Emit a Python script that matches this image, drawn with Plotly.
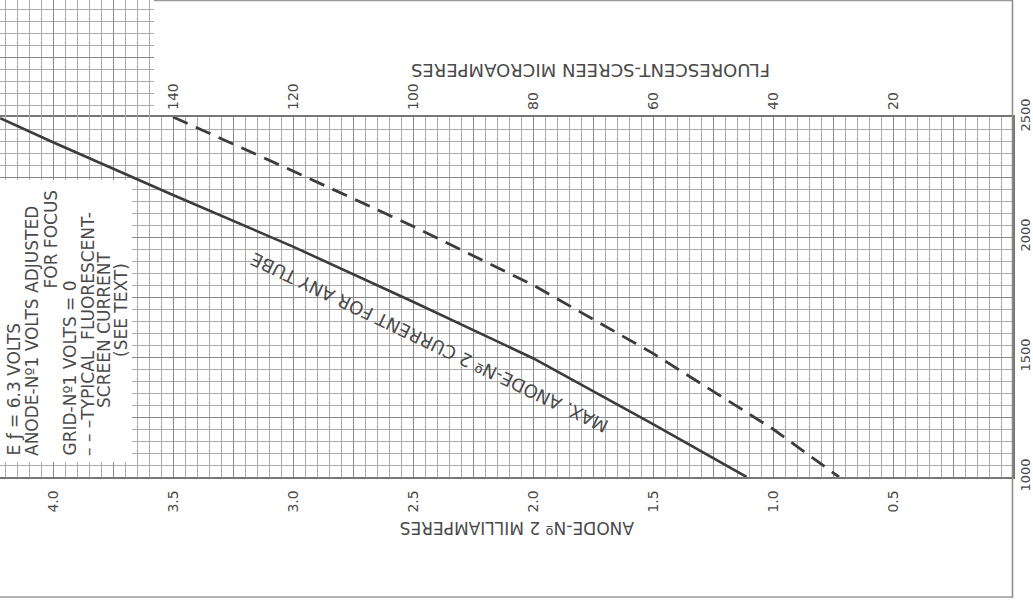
import numpy as np
import plotly.graph_objects as go

# ---------------- data ----------------
# Max. anode-No.2 current for any tube (solid): mA vs anode-No.2 volts
max_ma = [4.22, 4.0, 3.5, 3.0, 2.5, 2.0, 1.5, 1.11]
max_volts = [2495, 2395, 2175, 1960, 1730, 1495, 1220, 1000]

# Typical fluorescent-screen current (dashed): microamperes vs volts
screen_ua = [140, 120, 100, 80, 60, 40, 29]
screen_volts = [2500, 2275, 2045, 1800, 1515, 1200, 1000]

ma_ticks = [4.0, 3.5, 3.0, 2.5, 2.0, 1.5, 1.0, 0.5]
ma_labels = ["4.0", "3.5", "3.0", "2.5", "2.0", "1.5", "1.0", "0.5"]
ua_ticks = [140, 120, 100, 80, 60, 40, 20]
ua_labels = ["140", "120", "100", "80", "60", "40", "20"]
volt_ticks = [1000, 1500, 2000, 2500]
volt_labels = ["1000", "1500", "2000", "2500"]

# ---------------- geometry ----------------
W, H = 1033, 603
L, R, T, B = 0, 20, 0, 126
PW, PH = W - L - R, H - T - B          # plot area in px
GRID_TOP = 117                          # px where the main grid starts
PX_PER_MA = 240.0
PX_PER_UA = 6.0
PX_PER_V = 0.24
XMAX = PW / PX_PER_MA
YDOM_TOP = (PH - GRID_TOP) / PH
PIECE_W = 154

def px(x):
    return x / PW

def py(y):
    return (PH - y) / PH

INK = "#3c3c3c"
TXT = "#4a4a4a"
MAJ = "#888888"
MIN = "#ababab"
FONT = "DejaVu Sans"

fig = go.Figure()

fig.add_trace(go.Scatter(
    x=max_ma, y=max_volts, mode="lines", xaxis="x", yaxis="y",
    line=dict(color=INK, width=2.6), hoverinfo="skip", showlegend=False))

fig.add_trace(go.Scatter(
    x=screen_ua, y=screen_volts, mode="lines", xaxis="x3", yaxis="y",
    line=dict(color=INK, width=2.8, dash="16px,9px"),
    hoverinfo="skip", showlegend=False))

# invisible trace so the upper-left grid piece is drawn
fig.add_trace(go.Scatter(x=[4.0], y=[2700], mode="markers", xaxis="x4", yaxis="y4",
                         marker=dict(opacity=0), hoverinfo="skip", showlegend=False))

grid_x = list(np.round(np.arange(0, 4.30, 0.25), 2))
grid_x_text = []
for v in grid_x:
    lab = ""
    for t, s in zip(ma_ticks, ma_labels):
        if abs(t - v) < 1e-6:
            lab = s
    grid_x_text.append(lab)

grid_y = list(range(1000, 3001, 250))
grid_y_text = []
for v in grid_y:
    lab = ""
    for t, s in zip(volt_ticks, volt_labels):
        if t == v:
            lab = s
    grid_y_text.append(lab)

minor_x = dict(tickmode="linear", tick0=0, dtick=0.05, showgrid=True,
               gridcolor=MIN, gridwidth=1, ticks="")
minor_y = dict(tickmode="linear", tick0=1000, dtick=50, showgrid=True,
               gridcolor=MIN, gridwidth=1, ticks="")

tickfont = dict(family=FONT, size=14, color=TXT)

fig.update_layout(
    width=W, height=H,
    margin=dict(l=L, r=R, t=T, b=B, pad=0, autoexpand=False),
    paper_bgcolor="white", plot_bgcolor="white",
    showlegend=False,
    xaxis=dict(domain=[0, 1], range=[XMAX, 0], anchor="y", automargin=False,
               tickmode="array", tickvals=grid_x, ticktext=grid_x_text,
               tickangle=-90, tickfont=tickfont, ticks="", ticklabelstandoff=6,
               showgrid=True, gridcolor=MAJ, gridwidth=1.3, minor=minor_x,
               zeroline=False, showline=True, linecolor="#777777", linewidth=1.5,
               mirror=True),
    yaxis=dict(domain=[0, YDOM_TOP], range=[1000, 2500], anchor="x", side="right",
               automargin=False,
               tickmode="array", tickvals=grid_y, ticktext=grid_y_text,
               tickangle=-90, tickfont=dict(family=FONT, size=13, color=TXT),
               ticks="", ticklabelstandoff=0,
               showgrid=True, gridcolor=MAJ, gridwidth=1.3, minor=minor_y,
               zeroline=False, showline=True, linecolor="#777777", linewidth=1.5,
               mirror=True),
    xaxis3=dict(overlaying="x", anchor="y", side="top", range=[PW / PX_PER_UA, 0],
                automargin=False,
                tickmode="array", tickvals=ua_ticks, ticktext=ua_labels,
                tickangle=-90, tickfont=tickfont, ticks="", ticklabelstandoff=6,
                showgrid=False, zeroline=False, showline=False),
    xaxis4=dict(domain=[0, PIECE_W / PW], range=[XMAX, XMAX - PIECE_W / PX_PER_MA],
                automargin=False,
                anchor="y4", tickmode="array", tickvals=grid_x, showticklabels=False,
                ticks="", showgrid=True, gridcolor=MAJ, gridwidth=1.3, minor=minor_x,
                zeroline=False, showline=False),
    yaxis4=dict(domain=[YDOM_TOP, 1], range=[2500, 2500 + GRID_TOP / PX_PER_V],
                automargin=False,
                anchor="x4", tickmode="array", tickvals=grid_y, showticklabels=False,
                ticks="", showgrid=True, gridcolor=MAJ, gridwidth=1.3, minor=minor_y,
                zeroline=False, showline=False),
)

shapes = [
    # white legend box
    dict(type="rect", xref="paper", yref="paper", x0=px(-2), x1=px(132),
         y0=py(462), y1=py(180), fillcolor="white", line=dict(width=0), layer="above"),
    # page frame lines
    dict(type="line", xref="paper", yref="paper", x0=px(PIECE_W), x1=px(PW),
         y0=py(0.5), y1=py(0.5), line=dict(color="#9a9a9a", width=1.5)),
    dict(type="line", xref="paper", yref="paper", x0=px(PW - 0.5), x1=px(PW - 0.5),
         y0=py(0), y1=py(598), line=dict(color="#8a8a8a", width=1.5)),
    dict(type="line", xref="paper", yref="paper", x0=px(0), x1=px(PW),
         y0=py(597), y1=py(597), line=dict(color="#9a9a9a", width=1.5)),
]
fig.update_layout(shapes=shapes)

ann = []
tf = dict(family=FONT, size=17, color=TXT)
box_lines = [
    ("E ƒ = 6.3 VOLTS", 13, 458, "bottom"),
    ("ANODE-Nº1 VOLTS ADJUSTED", 32, 458, "bottom"),
    ("FOR FOCUS", 50, 188, "top"),
    ("GRID-Nº1 VOLTS = 0", 69, 458, "bottom"),
    ("– – –TYPICAL  FLUORESCENT-", 88, 458, "bottom"),
    ("SCREEN CURRENT", 104, 330, "middle"),
    ("(SEE TEXT)", 121, 310, "middle"),
]
for text, x, y, ya in box_lines:
    ann.append(dict(text=text, xref="paper", yref="paper", x=px(x), y=py(y),
                    xanchor="center", yanchor=ya, textangle=-90, showarrow=False,
                    font=tf))

# axis titles (upside down)
ann.append(dict(text="ANODE-Nº 2 MILLIAMPERES", xref="paper", yref="paper",
                x=px(517), y=py(528), xanchor="center", yanchor="middle",
                textangle=180, showarrow=False,
                font=dict(family=FONT, size=17, color=TXT)))
ann.append(dict(text="FLUORESCENT-SCREEN MICROAMPERES", xref="paper", yref="paper",
                x=px(591), y=py(71), xanchor="center", yanchor="middle",
                textangle=180, showarrow=False,
                font=dict(family=FONT, size=18, color=TXT)))
# curve label
ann.append(dict(text="MAX. ANODE-Nº 2 CURRENT FOR ANY TUBE", xref="paper", yref="paper",
                x=px(429), y=py(343), xanchor="center", yanchor="middle",
                textangle=-154.5, showarrow=False,
                font=dict(family=FONT, size=18, color=TXT)))
fig.update_layout(annotations=ann)

fig.write_html("out.html", config={"displayModeBar": False},
               post_script="document.body.style.margin='0px';"
                           "document.body.style.overflow='hidden';")
